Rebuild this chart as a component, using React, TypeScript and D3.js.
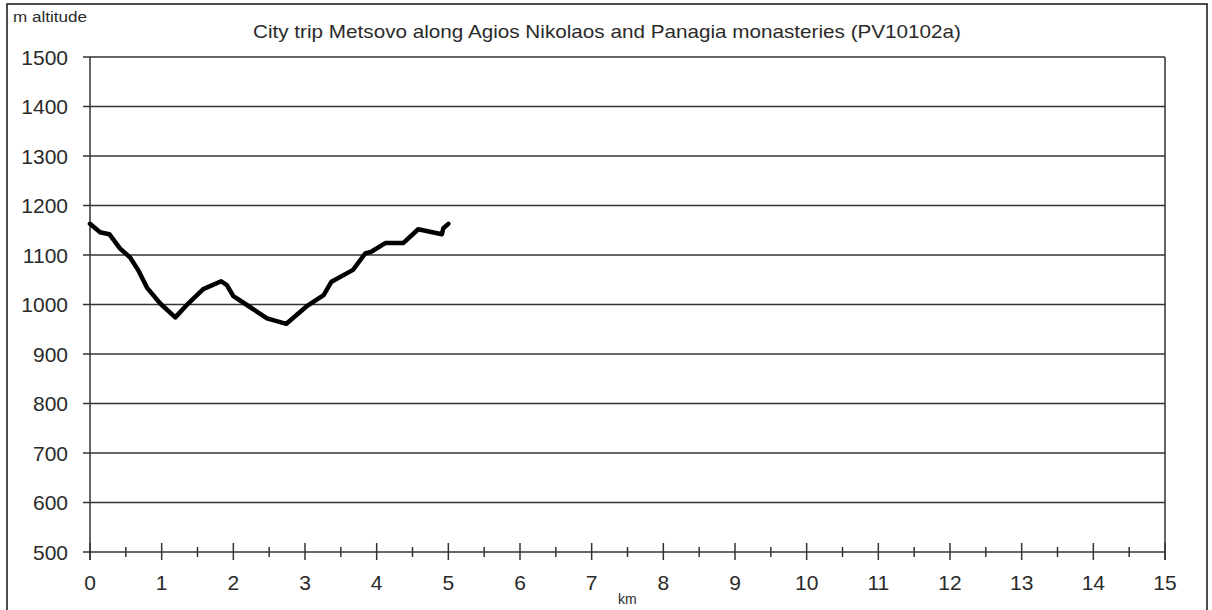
import * as d3 from "d3";

// distance along the route (km) and altitude (m)
const distKm = [
  0, 0.14, 0.27, 0.42, 0.56, 0.67, 0.8, 0.98, 1.19, 1.37, 1.58, 1.83, 1.91, 2.0,
  2.19, 2.47, 2.74, 3.02, 3.26, 3.37, 3.67, 3.84, 3.93, 4.12, 4.37, 4.58, 4.91,
  4.93, 5.0,
];
const altitudeM = [
  1163, 1146, 1142, 1113, 1095, 1070, 1033, 1002, 974, 1002, 1031, 1047, 1039,
  1017, 999, 972, 961, 996, 1019, 1046, 1070, 1103, 1107, 1124, 1124, 1152, 1142,
  1154, 1163,
];

const yTicks = [500, 600, 700, 800, 900, 1000, 1100, 1200, 1300, 1400, 1500];
const xTicks = d3.range(0, 16);
const xMinorTicks = d3.range(0.5, 15, 1);

const title =
  "City trip Metsovo along Agios Nikolaos and Panagia monasteries (PV10102a)";

export default function App() {
  const width = 1212;
  const height = 610;
  const left = 90;
  const right = 1165;
  const top = 57;
  const bottom = 552;

  const x = d3.scaleLinear().domain([0, 15]).range([left, right]);
  const y = d3.scaleLinear().domain([500, 1500]).range([bottom, top]);

  const line = d3
    .line<number>()
    .x((_, i) => x(distKm[i]))
    .y((d) => y(d));

  const font = "'Liberation Sans', Arial, sans-serif";
  const gridColor = "#333";
  const textColor = "#2a2a2a";

  return (
    <svg
      width={width}
      height={height}
      style={{ position: "absolute", left: 0, top: 0, background: "#fff" }}
    >
      <rect x={0} y={0} width={width} height={height} fill="#fff" />
      {/* outer frame */}
      <rect
        x={7}
        y={4}
        width={1200}
        height={620}
        fill="none"
        stroke="#111"
        strokeWidth={1.5}
      />

      <text
        x={13}
        y={22}
        fontFamily={font}
        fontSize={14}
        fill={textColor}
        textLength={74}
        lengthAdjust="spacingAndGlyphs"
      >
        m altitude
      </text>

      <text
        x={607}
        y={38}
        textAnchor="middle"
        fontFamily={font}
        fontSize={19}
        fill={textColor}
        textLength={708}
        lengthAdjust="spacingAndGlyphs"
      >
        {title}
      </text>

      {/* horizontal gridlines + y ticks */}
      {yTicks.map((t) => (
        <g key={t}>
          <line
            x1={left - 7}
            x2={right}
            y1={y(t)}
            y2={y(t)}
            stroke={gridColor}
            strokeWidth={1.5}
          />
          <text
            x={68}
            y={y(t) + 7.5}
            textAnchor="end"
            fontFamily={font}
            fontSize={21}
            fill={textColor}
          >
            {t}
          </text>
        </g>
      ))}

      {/* y axis and right frame */}
      <line x1={left} x2={left} y1={top} y2={bottom + 8} stroke={gridColor} strokeWidth={1.5} />
      <line x1={right} x2={right} y1={top} y2={bottom + 8} stroke={gridColor} strokeWidth={1.5} />

      {/* x ticks */}
      {xTicks.map((t) => (
        <g key={t}>
          <line
            x1={x(t)}
            x2={x(t)}
            y1={bottom - 9}
            y2={bottom + 8}
            stroke={gridColor}
            strokeWidth={1.5}
          />
          <text
            x={x(t)}
            y={590}
            textAnchor="middle"
            fontFamily={font}
            fontSize={21}
            fill={textColor}
          >
            {t}
          </text>
        </g>
      ))}
      {xMinorTicks.map((t) => (
        <line
          key={t}
          x1={x(t)}
          x2={x(t)}
          y1={bottom - 5}
          y2={bottom + 5}
          stroke={gridColor}
          strokeWidth={1.5}
        />
      ))}

      <text x={618} y={604} fontFamily={font} fontSize={14} fill={textColor}>
        km
      </text>

      <path
        d={line(altitudeM) ?? ""}
        fill="none"
        stroke="#000"
        strokeWidth={4.5}
        strokeLinejoin="round"
        strokeLinecap="round"
      />
    </svg>
  );
}
